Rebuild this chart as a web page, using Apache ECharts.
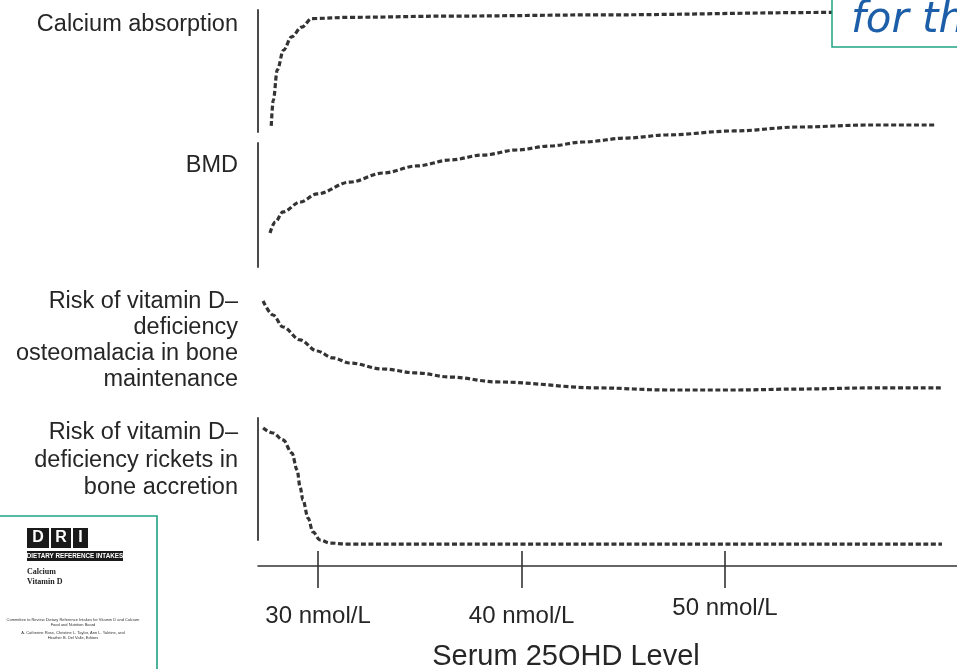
<!DOCTYPE html>
<html>
<head>
<meta charset="utf-8">
<script src="https://cdn.jsdelivr.net/npm/echarts@6/dist/echarts.min.js"></script>
<style>
  html, body { margin: 0; padding: 0; background: #fff; }
  #chart { width: 957px; height: 669px; }
</style>
</head>
<body>
<div id="chart"></div>
<script>
// Serum 25OHD level (nmol/L) against four relative outcomes.
// Y values are relative (0 = bottom of the panel's axis, 100 = top).

const tickValues = [30, 40, 50];
const tickLabels = ['30 nmol/L', '40 nmol/L', '50 nmol/L'];
const axisTitle = 'Serum 25OHD Level';

const panelLabels = [
  ['Calcium absorption'],
  ['BMD'],
  ['Risk of vitamin D\u2013', 'deficiency', 'osteomalacia in bone', 'maintenance'],
  ['Risk of vitamin D\u2013', 'deficiency rickets in', 'bone accretion']
];

const calciumX = [27.7, 27.8, 28.0, 28.3, 28.7, 29.2, 29.7, 31.6, 36.5, 43.9, 55.2, 61.0];
const calciumY = [5, 26, 51, 67, 78, 86, 93, 94, 95, 96, 98, 98.5];

const bmdX = [27.64, 27.89, 28.28, 29.12, 29.95, 31.57, 33.19, 34.86, 36.49, 38.11, 39.78, 41.40, 43.02, 45.18, 47.15, 50.39, 53.69, 56.98, 60.32];
const bmdY = [27.4, 36.3, 44.4, 52.4, 58.9, 68.5, 75.8, 81.5, 86.3, 90.3, 94.4, 97.6, 100.8, 104.0, 106.5, 109.7, 112.9, 114.5, 114.5];

const osteoX = [27.30, 27.79, 28.28, 29.12, 29.95, 30.74, 31.57, 33.19, 34.86, 36.49, 38.80, 43.86, 47.15, 50.39, 53.69, 56.98, 60.71];
const osteoY = [86.7, 75.0, 65.0, 54.2, 45.0, 39.2, 35.0, 30.0, 26.7, 23.3, 19.2, 14.2, 12.5, 12.5, 13.3, 14.2, 14.2];

const ricketsX = [27.30, 27.79, 28.28, 28.72, 28.97, 29.12, 29.26, 29.51, 29.75, 30.10, 30.59, 31.43, 36.49, 48.0, 60.66];
const ricketsY = [91.8, 87.7, 82.0, 71.3, 57.4, 43.4, 32.8, 18.0, 6.6, 0, -2.5, -3.3, -3.3, -3.3, -3.3];

const pair = (xs, ys) => xs.map((x, i) => [x, ys[i]]);

const X_MIN = 27.05, X_MAX = 61.4;
const panels = [
  { top: 10, height: 122, axisLine: true },
  { top: 143, height: 124, axisLine: true },
  { top: 285, height: 120, axisLine: false },
  { top: 418, height: 122, axisLine: true }
];
const labelLayout = [
  { y: 12, lh: 26 },
  { y: 153, lh: 26 },
  { y: 289, lh: 26 },
  { y: 419, lh: 27.5 }
];

const FONT = '"Liberation Sans", Arial, Helvetica, sans-serif';
const INK = '#262626';
const TEAL = '#1fa283';

const grid = panels.map(p => ({ left: 258, right: 0, top: p.top, height: p.height }));

const xAxis = panels.map((p, i) => ({
  type: 'value', gridIndex: i, min: X_MIN, max: X_MAX, show: false
}));
// bottom axis: line, downward ticks and labels
xAxis.push({
  type: 'value', gridIndex: 3, min: X_MIN, max: X_MAX, position: 'bottom', offset: 26,
  axisLine: { show: true, lineStyle: { color: '#333', width: 1.6 } },
  axisTick: { show: true, inside: false, length: 22, customValues: tickValues,
              lineStyle: { color: '#333', width: 1.6 } },
  axisLabel: {
    show: true, customValues: tickValues, margin: 30,
    formatter: v => {
      const lab = tickLabels[tickValues.indexOf(v)];
      return v === 50 ? '{hi|' + lab + '}' : '{lo|' + lab + '}';
    },
    rich: {
      lo: { fontFamily: FONT, fontSize: 24, color: INK, padding: [8, 0, 0, 0] },
      hi: { fontFamily: FONT, fontSize: 24, color: INK, padding: [0, 0, 0, 0] }
    }
  },
  splitLine: { show: false }
});
// upward part of the crossing ticks
xAxis.push({
  type: 'value', gridIndex: 3, min: X_MIN, max: X_MAX, position: 'bottom', offset: 26,
  axisLine: { show: false },
  axisTick: { show: true, inside: true, length: 15, customValues: tickValues,
              lineStyle: { color: '#333', width: 1.6 } },
  axisLabel: { show: false },
  splitLine: { show: false }
});

const yAxis = panels.map((p, i) => ({
  type: 'value', gridIndex: i, min: 0, max: 100,
  axisLine: { show: p.axisLine, lineStyle: { color: '#4a4a4a', width: 2 } },
  axisTick: { show: false }, axisLabel: { show: false }, splitLine: { show: false }
}));

const curveStyle = { color: '#333', width: 3.2, type: [5, 2.6], cap: 'butt' };
const seriesData = [pair(calciumX, calciumY), pair(bmdX, bmdY), pair(osteoX, osteoY), pair(ricketsX, ricketsY)];
const series = seriesData.map((d, i) => ({
  type: 'line', xAxisIndex: i, yAxisIndex: i, data: d,
  smooth: 0.35, smoothMonotone: 'x', showSymbol: false, clip: false,
  lineStyle: curveStyle, silent: true
}));

const graphics = [];
panelLabels.forEach((lines, i) => {
  graphics.push({
    type: 'text', x: 238, y: labelLayout[i].y, silent: true,
    style: {
      text: lines.join('\n'), fontFamily: FONT, fontSize: 23.5, fill: INK,
      align: 'right', verticalAlign: 'top', lineHeight: labelLayout[i].lh
    }
  });
});
graphics.push({
  type: 'text', x: 566, y: 657, silent: true,
  style: { text: axisTitle, fontFamily: FONT, fontSize: 29, fill: INK, align: 'center', verticalAlign: 'middle' }
});

// callout box in the upper right corner
graphics.push({
  type: 'rect', z: 100, silent: true,
  shape: { x: 832, y: -5, width: 140, height: 52 },
  style: { fill: '#fff', stroke: TEAL, lineWidth: 1.5 }
});
graphics.push({
  type: 'text', z: 101, x: 851, y: 21, silent: true,
  style: { text: 'for th', fontFamily: '"DejaVu Sans", sans-serif', fontStyle: 'italic', fontSize: 42, fill: '#1d5ea8',
           align: 'left', verticalAlign: 'middle' }
});

// report cover thumbnail in the lower left corner
const cover = [
  { type: 'rect', shape: { x: -5, y: 516, width: 162, height: 160 }, style: { fill: '#fff', stroke: TEAL, lineWidth: 1.6 } },
  { type: 'rect', shape: { x: 27, y: 528, width: 22, height: 20 }, style: { fill: '#1a1a1a' } },
  { type: 'rect', shape: { x: 51, y: 528, width: 20, height: 20 }, style: { fill: '#1a1a1a' } },
  { type: 'rect', shape: { x: 73, y: 528, width: 15, height: 20 }, style: { fill: '#1a1a1a' } },
  { type: 'text', x: 38, y: 538, style: { text: 'D', fontFamily: FONT, fontWeight: 'bold', fontSize: 16, fill: '#fff', align: 'center', verticalAlign: 'middle' } },
  { type: 'text', x: 61, y: 538, style: { text: 'R', fontFamily: FONT, fontWeight: 'bold', fontSize: 16, fill: '#fff', align: 'center', verticalAlign: 'middle' } },
  { type: 'text', x: 80.5, y: 538, style: { text: 'I', fontFamily: FONT, fontWeight: 'bold', fontSize: 16, fill: '#fff', align: 'center', verticalAlign: 'middle' } },
  { type: 'rect', shape: { x: 27, y: 551, width: 96, height: 10 }, style: { fill: '#1a1a1a' } },
  { type: 'text', x: 75, y: 556, style: { text: 'DIETARY REFERENCE INTAKES', fontFamily: FONT, fontWeight: 'bold', fontSize: 6.3, fill: '#fff', align: 'center', verticalAlign: 'middle' } },
  { type: 'text', x: 27, y: 567, style: { text: 'Calcium\nVitamin D', fontFamily: '"Liberation Serif", "DejaVu Serif", serif', fontWeight: 'bold', fontSize: 8, lineHeight: 10, fill: '#222', align: 'left', verticalAlign: 'top' } },
  { type: 'text', x: 73, y: 617, style: { text: 'Committee to Review Dietary Reference Intakes for Vitamin D and Calcium\nFood and Nutrition Board', fontFamily: FONT, fontSize: 4, lineHeight: 5, fill: '#333', align: 'center', verticalAlign: 'top' } },
  { type: 'text', x: 73, y: 630, style: { text: 'A. Catherine Ross, Christine L. Taylor, Ann L. Yaktine, and\nHeather B. Del Valle, Editors', fontFamily: FONT, fontSize: 4, lineHeight: 5, fill: '#333', align: 'center', verticalAlign: 'top' } }
];
cover.forEach(c => { c.silent = true; c.z = 100; graphics.push(c); });

const chart = echarts.init(document.getElementById('chart'), null, { renderer: 'canvas' });
chart.setOption({
  animation: false,
  backgroundColor: '#fff',
  grid: grid,
  xAxis: xAxis,
  yAxis: yAxis,
  series: series,
  graphic: graphics
});
</script>
</body>
</html>
